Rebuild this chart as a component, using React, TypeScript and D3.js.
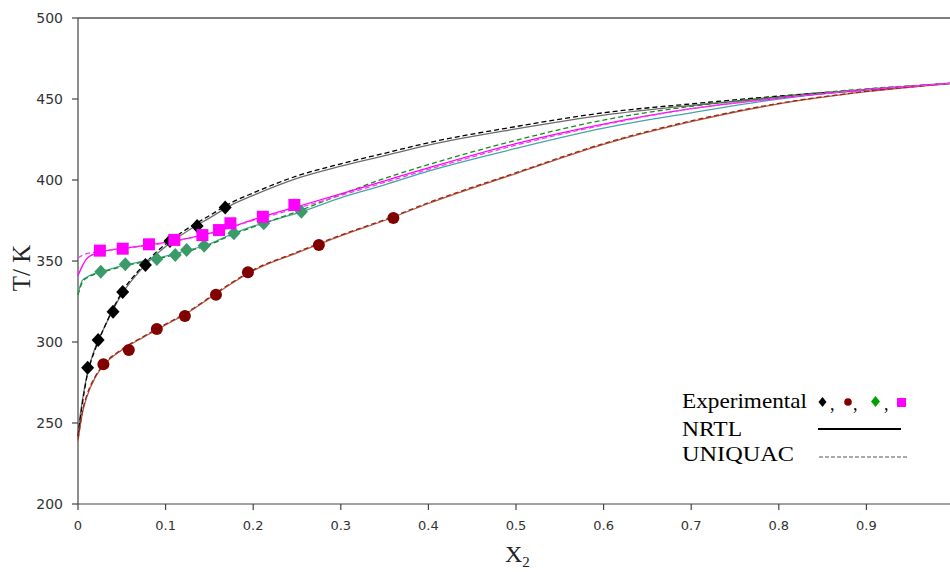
import React from "react";
import * as d3 from "d3";

// ---- data ----
const xGrid = [0, 0.005, 0.01, 0.02, 0.03, 0.05, 0.075, 0.1, 0.125, 0.15, 0.175, 0.2, 0.25, 0.3, 0.35, 0.4, 0.5, 0.6, 0.7, 0.8, 0.9, 1.0];

const blackNRTL = [245, 264, 279, 297, 309, 329.5, 346.5, 359, 368.5, 376.5, 384.5, 390.5, 401, 408.5, 415, 421.5, 431.5, 440, 446, 451, 455.5, 459.8];
const blackUNIQUAC = [242, 262, 278, 296, 309, 330.5, 347.5, 360.5, 370, 378, 386, 392, 402.5, 410, 416.5, 423, 433, 441.5, 447, 451.8, 455.8, 459.8];
const redNRTL = [239, 256, 266, 278.5, 286, 295, 303, 310.5, 318, 327, 336, 344, 355, 365.5, 375, 385.5, 404, 422, 436, 447, 454.5, 459.8];
const redUNIQUAC = [240, 257, 267, 279, 286.5, 295.5, 303.5, 311, 318.5, 327.5, 336.5, 344.5, 355.5, 366, 375.5, 386, 404.5, 422.5, 436.5, 447.3, 454.7, 459.8];
const greenNRTL = [330, 338, 340, 342.5, 344, 347, 350, 353, 356.5, 360.5, 366.5, 371.5, 379.5, 389, 397, 405.5, 419.5, 432, 441.5, 450, 456, 459.8];
const greenUNIQUAC = [329, 337, 339.5, 342, 343.5, 346.5, 349.5, 352.5, 356, 360, 366, 371, 380.5, 391, 401, 409.5, 424.5, 437, 445.5, 451.5, 456.3, 459.8];
const magentaNRTL = [341, 347, 351.5, 354.5, 356, 357.8, 359.5, 361.5, 364, 367, 371, 375.5, 383.5, 391.5, 399.5, 407.5, 422.5, 434.5, 444, 450.5, 455.8, 459.8];
const magentaUNIQUAC = [352, 353.5, 354.5, 355.5, 356.3, 357.5, 359.2, 361.2, 363.8, 366.8, 370.8, 375, 382.5, 390.5, 398.5, 406.5, 421.5, 434, 444, 450.5, 455.8, 459.8];

const blackExpX = [0.011, 0.023, 0.04, 0.051, 0.077, 0.105, 0.136, 0.168];
const blackExpT = [284.1, 301.2, 318.7, 330.9, 347.5, 362.3, 371.6, 383.1];
const redExpX = [0.029, 0.058, 0.09, 0.122, 0.1575, 0.194, 0.275, 0.36];
const redExpT = [286.2, 295.1, 308, 316, 329.2, 343, 359.9, 376.5];
const greenExpX = [0.026, 0.054, 0.09, 0.111, 0.124, 0.144, 0.178, 0.212, 0.255];
const greenExpT = [343.4, 348, 351.2, 353.7, 356.8, 359.4, 367.1, 373.3, 380.4];
const magentaExpX = [0.025, 0.051, 0.081, 0.11, 0.142, 0.161, 0.174, 0.211, 0.247];
const magentaExpT = [356.4, 357.6, 360.3, 363, 366, 369.1, 373.3, 377.3, 384.6];

const yTicks = [200, 250, 300, 350, 400, 450, 500];
const xTicks = [0, 0.1, 0.2, 0.3, 0.4, 0.5, 0.6, 0.7, 0.8, 0.9];
const xTickLabels = ["0", "0.1", "0.2", "0.3", "0.4", "0.5", "0.6", "0.7", "0.8", "0.9"];

const W = 950;
const H = 572;

export default function App() {
  const x = d3.scaleLinear().domain([0, 1]).range([78, 954]);
  const y = d3.scaleLinear().domain([200, 500]).range([504, 18]);

  const line = d3
    .line<[number, number]>()
    .x((d) => x(d[0]))
    .y((d) => y(d[1]))
    .curve(d3.curveMonotoneX);

  const pts = (arr: number[]) => xGrid.map((xv, i) => [xv, arr[i]] as [number, number]);

  const curves = [
    { data: blackNRTL, color: "#6c6c6c", dash: null },
    { data: blackUNIQUAC, color: "#000000", dash: "5,3" },
    { data: redNRTL, color: "#bb5a40", dash: null },
    { data: redUNIQUAC, color: "#8e2a1c", dash: "5,3" },
    { data: greenNRTL, color: "#48a4a6", dash: null },
    { data: greenUNIQUAC, color: "#1a8a1a", dash: "5,3" },
    { data: magentaNRTL, color: "#ff00ff", dash: null },
    { data: magentaUNIQUAC, color: "#f040f0", dash: "5,3" },
  ];

  const diamond = (cx: number, cy: number, h: number, w: number) =>
    `M${cx},${cy - h} L${cx + w},${cy} L${cx},${cy + h} L${cx - w},${cy} Z`;

  return (
    <svg
      width={W}
      height={H}
      style={{ position: "absolute", left: 0, top: 0, background: "#fff" }}
    >
      <rect x={0} y={0} width={W} height={H} fill="#fff" />
      {/* frame */}
      <line x1={78} y1={18} x2={W} y2={18} stroke="#000" strokeWidth={1.2} />
      <line x1={78} y1={18} x2={78} y2={504} stroke="#444" strokeWidth={1.2} />
      <line x1={78} y1={504} x2={W} y2={504} stroke="#444" strokeWidth={1.2} />

      {/* y ticks */}
      {yTicks.map((t) => (
        <g key={"y" + t}>
          <line x1={72} x2={78} y1={y(t)} y2={y(t)} stroke="#444" strokeWidth={1.2} />
          <text
            x={63}
            y={y(t) + 5}
            textAnchor="end"
            fontFamily="DejaVu Sans"
            fontSize={14}
            fill="#333"
          >
            {t}
          </text>
        </g>
      ))}
      {/* x ticks */}
      {xTicks.map((t, i) => (
        <g key={"x" + t}>
          <line x1={x(t)} x2={x(t)} y1={504} y2={510} stroke="#444" strokeWidth={1.2} />
          <text
            x={x(t)}
            y={530}
            textAnchor="middle"
            fontFamily="DejaVu Sans"
            fontSize={13}
            fill="#333"
          >
            {xTickLabels[i]}
          </text>
        </g>
      ))}

      {/* axis titles */}
      <text
        transform="translate(30,268) rotate(-90)"
        textAnchor="middle"
        fontFamily="Liberation Serif"
        fontSize={25}
        fill="#222"
      >
        T/ K
      </text>
      <text x={505} y={562} fontFamily="Liberation Serif" fontSize={24} fill="#222">
        X
        <tspan fontSize={15} dy={5}>
          2
        </tspan>
      </text>

      {/* model curves */}
      {curves.map((c, i) => (
        <path
          key={"c" + i}
          d={line(pts(c.data)) || ""}
          fill="none"
          stroke={c.color}
          strokeWidth={1.3}
          strokeDasharray={c.dash || undefined}
        />
      ))}

      {/* experimental points */}
      {blackExpX.map((xv, i) => (
        <path key={"bd" + i} d={diamond(x(xv), y(blackExpT[i]), 7, 6.5)} fill="#000" />
      ))}
      {redExpX.map((xv, i) => (
        <circle key={"rc" + i} cx={x(xv)} cy={y(redExpT[i])} r={6} fill="#800000" />
      ))}
      {greenExpX.map((xv, i) => (
        <path key={"gd" + i} d={diamond(x(xv), y(greenExpT[i]), 7, 6.5)} fill="#3a9a6a" />
      ))}
      {magentaExpX.map((xv, i) => (
        <rect
          key={"ms" + i}
          x={x(xv) - 6}
          y={y(magentaExpT[i]) - 6}
          width={12}
          height={12}
          fill="#ff00ff"
        />
      ))}

      {/* legend */}
      <g fontFamily="Liberation Serif" fill="#000">
        <text x={682} y={408} fontSize={22} textLength={125} lengthAdjust="spacingAndGlyphs">
          Experimental
        </text>
        <path d={diamond(822.5, 402, 5, 4)} fill="#000" />
        <text x={830} y={410} fontSize={18}>,</text>
        <circle cx={848} cy={402} r={3.8} fill="#800000" />
        <text x={853} y={410} fontSize={18}>,</text>
        <path d={diamond(875.5, 401.5, 5.5, 4.5)} fill="#00a000" />
        <text x={884} y={410} fontSize={18}>,</text>
        <rect x={897} y={398} width={9} height={9} fill="#ff00ff" />

        <text x={682} y={436} fontSize={22} textLength={60} lengthAdjust="spacingAndGlyphs">
          NRTL
        </text>
        <line x1={818} x2={901} y1={429} y2={429} stroke="#000" strokeWidth={2} />

        <text x={682} y={461} fontSize={22} textLength={112} lengthAdjust="spacingAndGlyphs">
          UNIQUAC
        </text>
        <line
          x1={819}
          x2={909}
          y1={457}
          y2={457}
          stroke="#555"
          strokeWidth={1}
          strokeDasharray="4,2"
        />
      </g>
    </svg>
  );
}
